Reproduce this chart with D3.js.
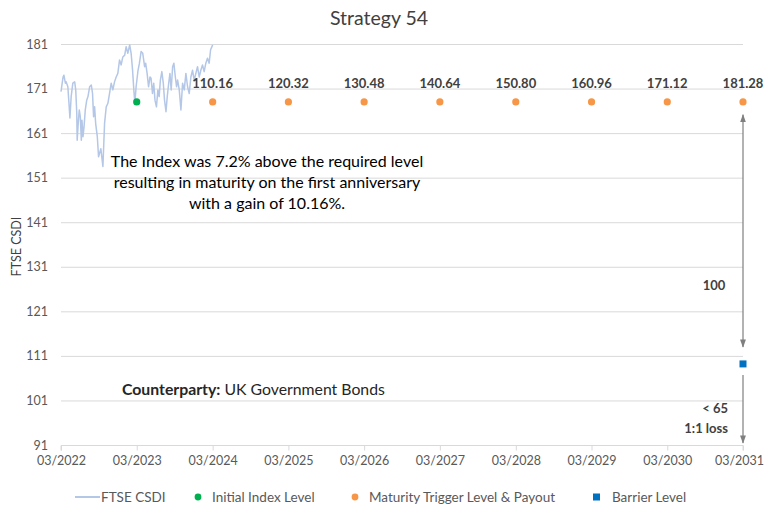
<!DOCTYPE html>
<html>
<head>
<meta charset="utf-8">
<script src="https://cdn.jsdelivr.net/npm/d3@7"></script>
<style>
  html, body { margin: 0; padding: 0; background: #fff; }
  svg { display: block; font-family: Lato, "Open Sans", sans-serif; }
</style>
</head>
<body>
<svg id="chart" width="764" height="511"></svg>
<script>
// FTSE CSDI index observations, March 2022 to March 2024
const indexDates = [
  "2022-03-01", "2022-03-11", "2022-03-15", "2022-03-22", "2022-03-26", "2022-04-03", "2022-04-08", "2022-04-13",
  "2022-04-19", "2022-04-27", "2022-05-06", "2022-05-11", "2022-05-16", "2022-05-18", "2022-05-23", "2022-05-28",
  "2022-06-02", "2022-06-07", "2022-06-10", "2022-06-15", "2022-06-20", "2022-06-26", "2022-07-03", "2022-07-09",
  "2022-07-17", "2022-07-25", "2022-07-31", "2022-08-05", "2022-08-10", "2022-08-15", "2022-08-23", "2022-08-29",
  "2022-09-09", "2022-09-19", "2022-09-27", "2022-10-05", "2022-10-13", "2022-10-21", "2022-10-29", "2022-11-06",
  "2022-11-14", "2022-11-22", "2022-11-30", "2022-12-08", "2022-12-16", "2022-12-24", "2023-01-02", "2023-01-09",
  "2023-01-17", "2023-01-26", "2023-02-02", "2023-02-09", "2023-02-15", "2023-02-20", "2023-02-26", "2023-03-07",
  "2023-03-14", "2023-03-22", "2023-03-30", "2023-04-08", "2023-04-13", "2023-04-20", "2023-04-27", "2023-05-04",
  "2023-05-09", "2023-05-16", "2023-05-22", "2023-05-28", "2023-06-04", "2023-06-11", "2023-06-17", "2023-06-23",
  "2023-06-30", "2023-07-07", "2023-07-13", "2023-07-20", "2023-07-26", "2023-08-02", "2023-08-08", "2023-08-14",
  "2023-08-21", "2023-08-27", "2023-09-03", "2023-09-09", "2023-09-14", "2023-09-22", "2023-09-30", "2023-10-08",
  "2023-10-16", "2023-10-24", "2023-11-01", "2023-11-09", "2023-11-17", "2023-11-25", "2023-12-03", "2023-12-11",
  "2023-12-19", "2023-12-27", "2024-01-04", "2024-01-12", "2024-01-20", "2024-01-28", "2024-02-05", "2024-02-13",
  "2024-02-20", "2024-03-01"
];
const indexValues = [
  170.3, 173.6, 174.0, 172.2, 172.5, 171.4, 168.0, 164.4,
  169.2, 172.2, 172.5, 170.7, 165.5, 159.4, 163.2, 166.2,
  164.7, 159.4, 163.9, 160.2, 162.4, 166.2, 168.4, 169.2,
  171.4, 171.8, 169.9, 164.7, 166.9, 163.2, 160.2, 155.7,
  157.5, 153.5, 163.2, 166.9, 167.7, 169.9, 172.2, 170.7,
  172.5, 173.6, 174.4, 177.4, 176.3, 178.1, 178.5, 180.4,
  178.9, 180.8, 178.9, 175.1, 170.7, 167.7, 171.4, 175.0,
  176.7, 179.3, 178.9, 175.9, 176.7, 174.4, 171.4, 173.6,
  173.3, 169.9, 172.2, 168.4, 166.9, 170.7, 169.2, 172.9,
  174.8, 172.2, 168.4, 165.8, 169.2, 172.2, 174.4, 170.7,
  175.9, 176.7, 173.6, 171.4, 172.9, 170.7, 166.2, 172.2,
  170.7, 174.4, 171.4, 169.9, 173.6, 175.1, 172.9, 174.4,
  175.9, 173.6, 175.1, 176.3, 174.8, 176.7, 177.8, 176.7,
  179.7, 180.8
];

// Initial index level
const initialDate = "2023-03-01";
const initialLevel = 168;

// Annual maturity trigger observations and payouts
const triggerDates = ["2024-03-01", "2025-03-01", "2026-03-01", "2027-03-01",
                      "2028-03-01", "2029-03-01", "2030-03-01", "2031-03-01"];
const triggerLevel = 168;
const payouts = ["110.16", "120.32", "130.48", "140.64", "150.80", "160.96", "171.12", "181.28"];

// Capital barrier at final maturity
const barrierDate = "2031-03-01";
const barrierLevel = 109.2;

// Axis ticks
const yTicks = [91, 101, 111, 121, 131, 141, 151, 161, 171, 181];
const xTickDates = ["2022-03-01", "2023-03-01", "2024-03-01", "2025-03-01", "2026-03-01",
                    "2027-03-01", "2028-03-01", "2029-03-01", "2030-03-01", "2031-03-01"];

// Capital return annotations beside the final observation
const returnArrow = [165.1, 113.0];
const lossArrow = [106.7, 91.45];
const returnLabel = "100";
const lossLabels = ["< 65", "1:1 loss"];

const noteLines = [
  "The Index was 7.2% above the required level",
  "resulting in maturity on the first anniversary",
  "with a gain of 10.16%."
];

const parse = d3.utcParse("%Y-%m-%d");
const fmt = d3.utcFormat("%m/%Y");

const svg = d3.select("#chart");
const margin = { left: 61, right: 21, top: 44, bottom: 66 };
const W = 764, H = 511;

const x = d3.scaleUtc()
  .domain([parse(xTickDates[0]), parse(xTickDates[xTickDates.length - 1])])
  .range([margin.left, W - margin.right]);
const y = d3.scaleLinear()
  .domain([91, 181])
  .range([H - margin.bottom, margin.top]);

const GRID = "#d9d9d9";
const TEXT = "#595959";
const ORANGE = "#f79646";
const GREEN = "#00b050";
const BLUE = "#0070c0";
const LINE = "#b4c7e7";
const ARROW = "#7f7f7f";

// Title
svg.append("text")
  .attr("x", 379).attr("y", 25)
  .attr("text-anchor", "middle")
  .attr("font-size", 19.5)
  .attr("fill", "#404040")
  .text("Strategy 54");

// Horizontal gridlines + y labels
const yAxis = d3.axisLeft(y).tickValues(yTicks).tickSize(0).tickPadding(13).tickFormat(d3.format("d"));
const gy = svg.append("g").attr("transform", `translate(${margin.left},0)`).call(yAxis);
gy.select(".domain").remove();
gy.selectAll("text").attr("font-size", 12.5).attr("fill", TEXT).attr("font-family", "Lato, sans-serif");

svg.append("g").selectAll("line")
  .data(yTicks.filter(d => d !== 91))
  .join("line")
  .attr("x1", margin.left).attr("x2", W - margin.right)
  .attr("y1", d => y(d) + 0.5).attr("y2", d => y(d) + 0.5)
  .attr("stroke", GRID).attr("stroke-width", 1);

// Bottom axis
const xAxis = d3.axisBottom(x)
  .tickValues(xTickDates.map(parse))
  .tickSize(5).tickPadding(6)
  .tickFormat(fmt);
const gx = svg.append("g").attr("transform", `translate(0,${y(91) + 0.5})`).call(xAxis);
gx.select(".domain").attr("stroke", GRID).attr("d", `M${x.range()[0]},5V0H${x.range()[1]}V5`);
gx.selectAll(".tick line").attr("stroke", GRID);
gx.selectAll("text").attr("font-size", 12.5).attr("fill", TEXT).attr("font-family", "Lato, sans-serif");
// keep the last label inside the canvas
gx.selectAll(".tick").filter((d, i, n) => i === n.length - 1).select("text").attr("dx", -4);

// Y axis title
svg.append("text")
  .attr("transform", `translate(21,${(y(91) + y(181)) / 2 + 2}) rotate(-90)`)
  .attr("text-anchor", "middle")
  .attr("font-size", 12.5)
  .attr("fill", "#404040")
  .text("FTSE CSDI");

// Index line
const indexSeries = indexDates.map((d, i) => ({ date: parse(d), value: indexValues[i] }));
svg.append("path")
  .datum(indexSeries)
  .attr("fill", "none")
  .attr("stroke", LINE)
  .attr("stroke-width", 1.5)
  .attr("stroke-linejoin", "round")
  .attr("d", d3.line().x(d => x(d.date)).y(d => y(d.value)));

// Maturity trigger points and payouts
const triggers = triggerDates.map((d, i) => ({ date: parse(d), level: triggerLevel, payout: payouts[i] }));
svg.append("g").selectAll("circle")
  .data(triggers)
  .join("circle")
  .attr("cx", d => x(d.date)).attr("cy", d => y(d.level))
  .attr("r", 3.6).attr("fill", ORANGE);
svg.append("g").selectAll("text")
  .data(triggers)
  .join("text")
  .attr("x", d => x(d.date)).attr("y", d => y(d.level) - 14)
  .attr("text-anchor", "middle")
  .attr("font-size", 13).attr("font-weight", "bold")
  .attr("fill", "#404040")
  .text(d => d.payout);

// Initial index level
svg.append("circle")
  .attr("cx", x(parse(initialDate))).attr("cy", y(initialLevel))
  .attr("r", 3.6).attr("fill", GREEN);

// Barrier
svg.append("rect")
  .attr("x", x(parse(barrierDate)) - 3.5).attr("y", y(barrierLevel) - 3.5)
  .attr("width", 7).attr("height", 7).attr("fill", BLUE);

// Arrows
const defs = svg.append("defs");
defs.append("marker")
  .attr("id", "head").attr("viewBox", "0 0 10 10")
  .attr("refX", 9).attr("refY", 5)
  .attr("markerWidth", 7).attr("markerHeight", 7)
  .attr("orient", "auto-start-reverse")
  .append("path").attr("d", "M0,1.5L10,5L0,8.5Z").attr("fill", ARROW);

const ax = x(parse(barrierDate));
svg.append("line")
  .attr("x1", ax).attr("x2", ax)
  .attr("y1", y(returnArrow[0])).attr("y2", y(returnArrow[1]))
  .attr("stroke", ARROW).attr("stroke-width", 1.2)
  .attr("marker-start", "url(#head)").attr("marker-end", "url(#head)");
svg.append("line")
  .attr("x1", ax).attr("x2", ax)
  .attr("y1", y(lossArrow[0])).attr("y2", y(lossArrow[1]))
  .attr("stroke", ARROW).attr("stroke-width", 1.2)
  .attr("marker-end", "url(#head)");

svg.append("text")
  .attr("x", ax - 29).attr("y", y(125.8))
  .attr("text-anchor", "middle")
  .attr("font-size", 13).attr("font-weight", "bold").attr("fill", "#404040")
  .text(returnLabel);
svg.selectAll(".lossLabel")
  .data(lossLabels)
  .join("text")
  .attr("class", "lossLabel")
  .attr("x", ax - 15)
  .attr("y", (d, i) => y(98.2) + i * 20)
  .attr("text-anchor", "end")
  .attr("font-size", 13).attr("font-weight", "bold").attr("fill", "#404040")
  .text(d => d);

// Outcome note
svg.append("g").selectAll("text")
  .data(noteLines)
  .join("text")
  .attr("x", 267).attr("y", (d, i) => 167 + i * 21)
  .attr("text-anchor", "middle")
  .attr("font-size", 16).attr("fill", "#000")
  .text(d => d);

// Counterparty
const cp = svg.append("text")
  .attr("x", 122).attr("y", 395)
  .attr("font-size", 15.8).attr("fill", "#262626");
cp.append("tspan").attr("font-weight", "bold").text("Counterparty:");
cp.append("tspan").text(" UK Government Bonds");

// Legend
const ly = 497;
const lg = svg.append("g").attr("font-size", 13.5).attr("fill", TEXT);
lg.append("line").attr("x1", 75).attr("x2", 100).attr("y1", ly).attr("y2", ly)
  .attr("stroke", LINE).attr("stroke-width", 2);
lg.append("text").attr("x", 101).attr("y", ly + 4.5).attr("fill", TEXT).text("FTSE CSDI");
lg.append("circle").attr("cx", 198).attr("cy", ly).attr("r", 3.4).attr("fill", GREEN);
lg.append("text").attr("x", 212).attr("y", ly + 4.5).attr("fill", TEXT).text("Initial Index Level");
lg.append("circle").attr("cx", 355).attr("cy", ly).attr("r", 3.4).attr("fill", ORANGE);
lg.append("text").attr("x", 369).attr("y", ly + 4.5).attr("fill", TEXT).text("Maturity Trigger Level & Payout");
lg.append("rect").attr("x", 593).attr("y", ly - 3.5).attr("width", 7).attr("height", 7).attr("fill", BLUE);
lg.append("text").attr("x", 612).attr("y", ly + 4.5).attr("fill", TEXT).text("Barrier Level");
</script>
</body>
</html>
